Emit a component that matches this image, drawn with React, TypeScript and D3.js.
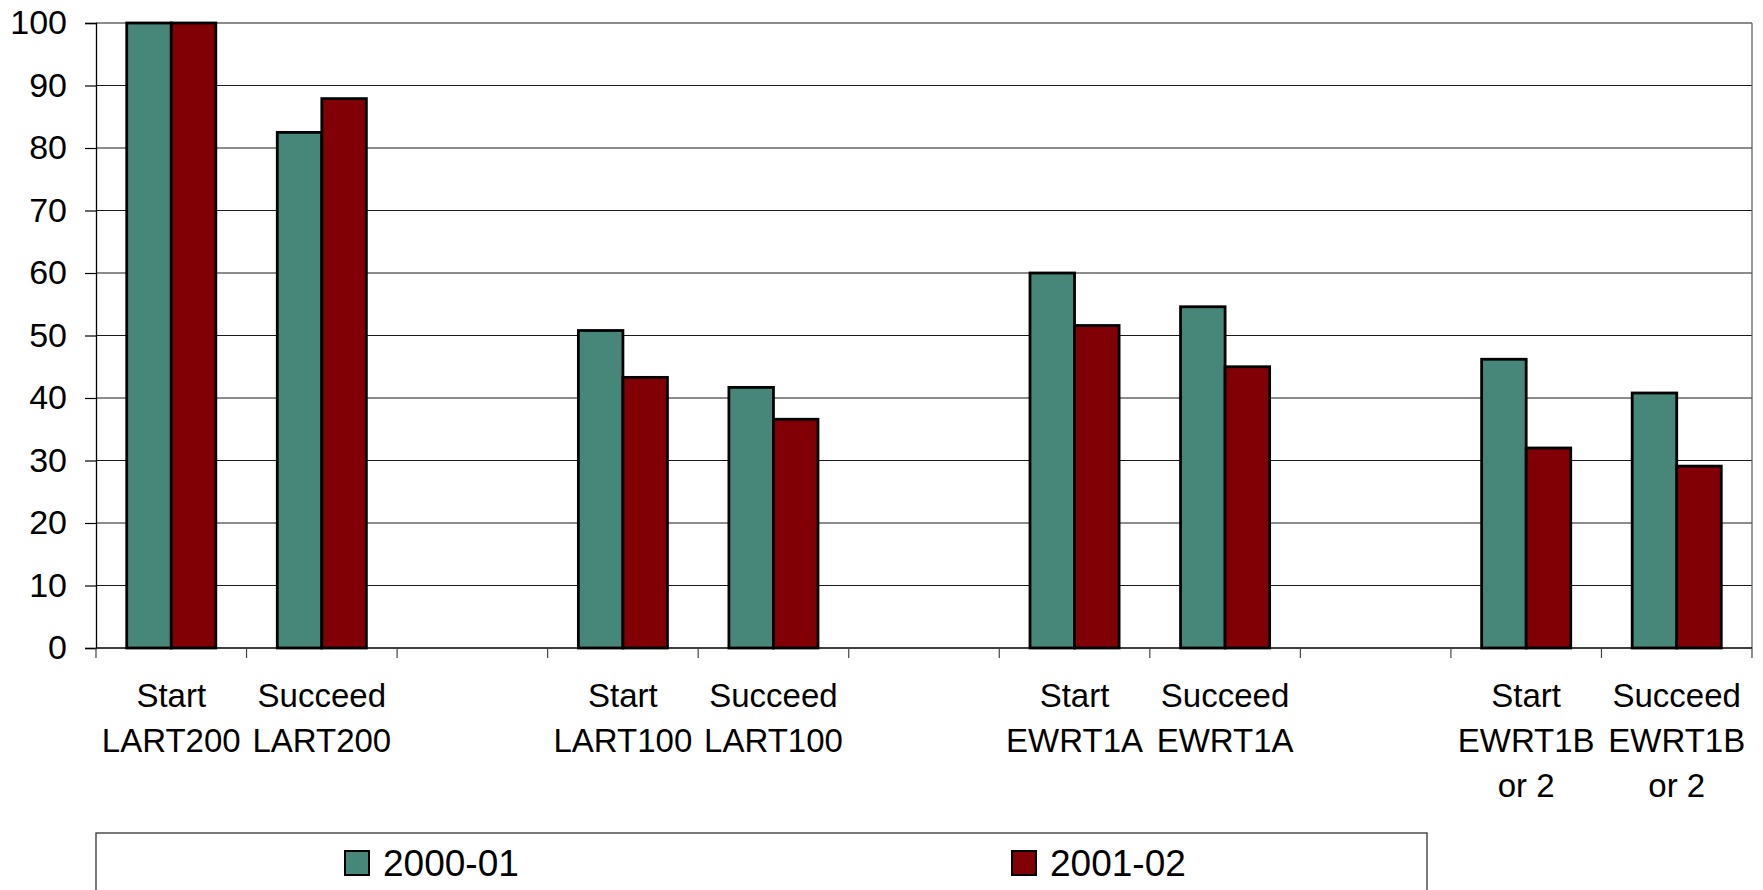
import { useEffect, useRef } from 'react';
import * as d3 from 'd3';

const categories = ['sLART200', 'uLART200', 'gap1', 'sLART100', 'uLART100', 'gap2', 'sEWRT1A', 'uEWRT1A', 'gap3', 'sEWRT1B', 'uEWRT1B'];
const categoryLabels = [
  ['Start', 'LART200'], ['Succeed', 'LART200'], [],
  ['Start', 'LART100'], ['Succeed', 'LART100'], [],
  ['Start', 'EWRT1A'], ['Succeed', 'EWRT1A'], [],
  ['Start', 'EWRT1B', 'or 2'], ['Succeed', 'EWRT1B', 'or 2'],
];
const seriesNames = ['2000-01', '2001-02'];
const values2000 = [100, 82.5, null, 50.8, 41.7, null, 60.0, 54.6, null, 46.2, 40.8];
const values2001 = [100, 87.9, null, 43.3, 36.6, null, 51.6, 45.0, null, 32.0, 29.1];
const yTicks = [0, 10, 20, 30, 40, 50, 60, 70, 80, 90, 100];
const colors = ['#47877a', '#800006'];

export default function App() {
  const ref = useRef<SVGSVGElement>(null);

  useEffect(() => {
    if (!ref.current) return;
    const svg = d3.select(ref.current);
    svg.selectAll('*').remove();

    const left = 96, right = 1752, top = 23, bottom = 648;
    const font = "'Liberation Sans', Arial, sans-serif";

    const x = d3.scaleBand<string>().domain(categories).range([left, right]).padding(0);
    const x1 = d3.scaleBand<string>().domain(seriesNames).range([0, x.bandwidth()])
      .paddingInner(0).paddingOuter(0.69);
    const y = d3.scaleLinear().domain([0, 100]).range([bottom, top]);

    // gridlines
    svg.append('g')
      .selectAll('line')
      .data(yTicks.filter(t => t > 0))
      .enter()
      .append('line')
      .attr('x1', left).attr('x2', right)
      .attr('y1', d => y(d)).attr('y2', d => y(d))
      .attr('stroke', '#1a1a1a').attr('stroke-width', 1.2);

    // right border
    svg.append('line')
      .attr('x1', right).attr('x2', right).attr('y1', top).attr('y2', bottom)
      .attr('stroke', '#555').attr('stroke-width', 1.2);

    // bars
    const data = [values2000, values2001];
    data.forEach((vals, si) => {
      svg.append('g')
        .selectAll('rect')
        .data(categories.map((c, i) => ({ c, v: vals[i] })).filter(d => d.v !== null))
        .enter()
        .append('rect')
        .attr('x', d => x(d.c)! + x1(seriesNames[si])!)
        .attr('y', d => y(d.v as number))
        .attr('width', x1.bandwidth())
        .attr('height', d => bottom - y(d.v as number))
        .attr('fill', colors[si])
        .attr('stroke', '#000')
        .attr('stroke-width', 2.8);
    });

    // y axis
    const yAxis = svg.append('g')
      .attr('transform', `translate(${left},0)`)
      .call(d3.axisLeft(y).tickValues(yTicks).tickSize(11).tickPadding(18).tickFormat(d3.format('d')));
    yAxis.select('.domain').attr('stroke', '#000').attr('stroke-width', 1.3);
    yAxis.selectAll('line').attr('stroke', '#000').attr('stroke-width', 1.2);
    yAxis.selectAll('text')
      .style('font-family', font).style('font-size', '34px').attr('fill', '#000');

    // x axis with ticks at category boundaries
    svg.append('line')
      .attr('x1', left).attr('x2', right).attr('y1', bottom).attr('y2', bottom)
      .attr('stroke', '#000').attr('stroke-width', 1.3);
    const bounds = categories.map(c => x(c)!).concat([right]);
    svg.append('g')
      .selectAll('line')
      .data(bounds)
      .enter()
      .append('line')
      .attr('x1', d => d).attr('x2', d => d)
      .attr('y1', bottom).attr('y2', bottom + 10)
      .attr('stroke', '#444').attr('stroke-width', 1.2);

    // category labels
    const labels = svg.append('g');
    categories.forEach((c, i) => {
      categoryLabels[i].forEach((line, li) => {
        labels.append('text')
          .attr('x', x(c)! + x.bandwidth() / 2)
          .attr('y', 707 + li * 45)
          .attr('text-anchor', 'middle')
          .style('font-family', font)
          .style('font-size', '33px')
          .attr('fill', '#000')
          .text(line);
      });
    });

    // legend
    svg.append('rect')
      .attr('x', left).attr('y', 833).attr('width', 1331).attr('height', 120)
      .attr('fill', 'none').attr('stroke', '#333').attr('stroke-width', 1.3);
    const legendX = [345, 1012];
    seriesNames.forEach((s, i) => {
      svg.append('rect')
        .attr('x', legendX[i]).attr('y', 851).attr('width', 24).attr('height', 24)
        .attr('fill', colors[i]).attr('stroke', '#000').attr('stroke-width', 2);
      svg.append('text')
        .attr('x', legendX[i] + 38).attr('y', 876)
        .style('font-family', font).style('font-size', '37px')
        .attr('fill', '#000')
        .text(s);
    });
  }, []);

  return (
    <svg ref={ref} width={1763} height={890}
      style={{ position: 'absolute', left: 0, top: 0, background: '#fff' }} />
  );
}
